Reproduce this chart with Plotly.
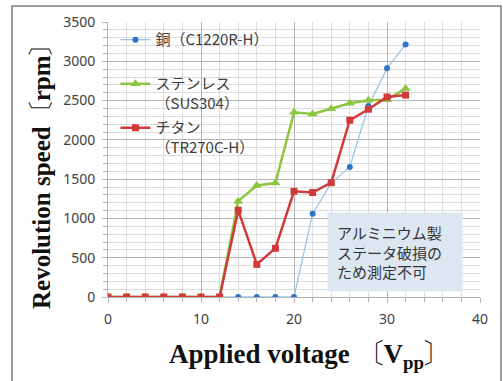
import plotly.graph_objects as go

voltage = [0, 2, 4, 6, 8, 10, 12, 14, 16, 18, 20, 22, 24, 26, 28, 30, 32]
copper = [0, 0, 0, 0, 0, 0, 0, 0, 0, 0, 0, 1060, 1450, 1655, 2430, 2910, 3215]
stainless = [0, 0, 0, 0, 0, 0, 0, 1220, 1420, 1450, 2350, 2330, 2395, 2465, 2505, 2510, 2655]
titanium = [0, 0, 0, 0, 0, 0, 0, 1105, 415, 620, 1345, 1330, 1455, 2250, 2390, 2545, 2570]

names = ["銅（C1220R-H）<br>&#160;", "ステンレス<br>（SUS304）", "チタン<br>（TR270C-H）"]
note = "アルミニウム製<br>ステータ破損の<br>ため測定不可"
x_title = "Applied voltage 〔V<sub>pp</sub>〕"
y_title = "Revolution speed〔rpm〕"

fig = go.Figure()
fig.add_trace(go.Scatter(x=voltage, y=copper, name=names[0], mode="lines+markers",
                         line=dict(color="#9dc3e6", width=1.3),
                         marker=dict(color="#2e75c6", size=6, symbol="circle"),
                         legendgroup="a"))
fig.add_trace(go.Scatter(x=voltage, y=stainless, name=names[1], mode="lines+markers",
                         line=dict(color="#8dc63f", width=2.5),
                         marker=dict(color="#8dc63f", size=9, symbol="triangle-up"),
                         legendgroup="b"))
fig.add_trace(go.Scatter(x=voltage, y=titanium, name=names[2], mode="lines+markers",
                         line=dict(color="#d03a3a", width=2.5),
                         marker=dict(color="#d03a3a", size=7, symbol="square"),
                         legendgroup="c"))

fig.add_annotation(x=(327 - 108) / 372, y=(297 - 212) / 275, xref="paper", yref="paper", text=note,
                   showarrow=False, xanchor="left", yanchor="top", align="left",
                   bgcolor="#dde7f2", borderpad=9, width=116,
                   font=dict(family="Noto Sans CJK JP", size=15, color="#333333"))

serif_y = dict(family="Liberation Serif, Noto Serif CJK JP, Noto Sans CJK JP", size=25,
               color="#111111", weight="bold")
serif_x = dict(family="Liberation Serif, Noto Serif CJK JP, Noto Sans CJK JP", size=27,
               color="#111111", weight="bold")
fig.add_annotation(x=(41 - 108) / 372, y=(297 - 170) / 275, xref="paper", yref="paper", text=y_title,
                   showarrow=False, textangle=-90, xanchor="center", yanchor="middle", font=serif_y)
fig.add_annotation(x=(310 - 108) / 372, y=(297 - 356) / 275, xref="paper", yref="paper", text=x_title,
                   showarrow=False, xanchor="center", yanchor="middle", font=serif_x)

fig.add_shape(type="rect", xref="paper", yref="paper", x0=(12 - 108) / 372, x1=(501 - 108) / 372,
              y0=(297 - 395) / 275, y1=(297 - 6) / 275,
              line=dict(color="#7f7f7f", width=1.5), fillcolor="rgba(0,0,0,0)", layer="above")

axis_font = dict(family="Noto Sans, Open Sans", size=14, color="#404040")
common = dict(tickfont=axis_font, showgrid=True, gridcolor="#b3b3b3", gridwidth=1,
              ticks="outside", ticklen=5, tickcolor="#b3b3b3",
              showline=True, linecolor="#b3b3b3", zeroline=False, automargin=False)
fig.update_xaxes(range=[0, 40], dtick=10, ticklabelstandoff=4,
                 minor=dict(dtick=2, showgrid=True, gridcolor="#dcdcdc", ticks="outside",
                            ticklen=4, tickcolor="#b3b3b3"), **common)
fig.update_yaxes(range=[0, 3500], dtick=500, ticklabelstandoff=4,
                 minor=dict(dtick=100, showgrid=True, gridcolor="#dcdcdc", ticks="outside",
                            ticklen=4, tickcolor="#b3b3b3"), **common)

fig.update_layout(
    width=503, height=381,
    margin=dict(l=108, r=23, t=22, b=84, autoexpand=False),
    paper_bgcolor="white", plot_bgcolor="white",
    showlegend=True,
    legend=dict(x=0.02, y=0.995, xanchor="left", yanchor="top", bgcolor="rgba(255,255,255,0)",
                font=dict(family="Noto Sans CJK JP", size=15, color="#404040"),
                tracegroupgap=2, itemwidth=30, valign="top"),
)

fig.write_html("out.html", config={"displayModeBar": False},
               post_script="document.body.style.margin='0px';")
